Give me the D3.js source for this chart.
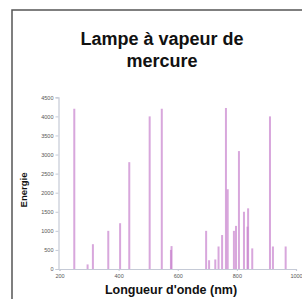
<!DOCTYPE html>
<html><head><meta charset="utf-8">
<script src="https://cdn.jsdelivr.net/npm/d3@7"></script>
<style>html,body{margin:0;padding:0;background:#fff;}</style>
</head><body>
<script>
const wavelengths = [250, 295, 313, 365, 405, 436, 505, 546, 577, 579, 696, 706, 727, 738, 750, 763, 769, 790, 797, 807, 824, 836, 838, 852, 912, 922, 965];
const energies   = [4200, 120, 650, 1000, 1200, 2800, 4000, 4200, 500, 600, 1000, 230, 250, 590, 890, 4220, 2090, 1000, 1130, 3090, 1500, 1110, 1590, 540, 4000, 590, 590];
const xTicks = [200, 400, 600, 800, 1000];
const yTicks = [0, 500, 1000, 1500, 2000, 2500, 3000, 3500, 4000, 4500];
const titleLines = ["Lampe à vapeur de", "mercure"];
const xLabel = "Longueur d'onde (nm)";
const yLabel = "Energie";

const W = 302, H = 299;
const svg = d3.select("body").append("svg").attr("width", W).attr("height", H);
svg.append("rect").attr("width", W).attr("height", H).attr("fill", "#fff");
svg.append("rect").attr("x", 12).attr("y", 10).attr("width", 400).attr("height", 400)
  .attr("fill", "none").attr("stroke", "#555").attr("stroke-width", 1.5);

const x = d3.scaleLinear().domain([200, 1000]).range([59.5, 296]);
const y = d3.scaleLinear().domain([0, 4500]).range([269, 97.3]);

svg.append("text").attr("text-anchor", "middle").attr("font-family", "Liberation Sans, Arial, sans-serif")
  .attr("font-weight", "bold").attr("font-size", 18).attr("fill", "#111")
  .selectAll("tspan").data(titleLines).join("tspan")
  .attr("x", 162).attr("y", (d, i) => 45 + i * 22).text(d => d);

const data = wavelengths.map((w, i) => ({w, e: energies[i]}));
svg.append("g").selectAll("rect").data(data).join("rect")
  .attr("x", d => x(d.w) - 1).attr("width", 2)
  .attr("y", d => y(d.e)).attr("height", d => y(0) - y(d.e))
  .attr("fill", "rgb(200,130,205)").attr("fill-opacity", 0.7);

const fmt = d3.format("d");
const ax = svg.append("g").attr("transform", `translate(0,${y(0)})`)
  .call(d3.axisBottom(x).tickValues(xTicks).tickFormat(fmt).tickSize(2).tickPadding(3));
const ay = svg.append("g").attr("transform", `translate(${x(200) - 1},0)`)
  .call(d3.axisLeft(y).tickValues(yTicks).tickFormat(fmt).tickSize(3).tickPadding(2));
[ax, ay].forEach(a => {
  a.select(".domain").attr("stroke", "#c5cad6").attr("stroke-width", 1.2);
  a.selectAll(".tick line").attr("stroke", "#c5cad6");
  a.selectAll(".tick text").attr("font-size", 5.5).attr("fill", "#555")
    .attr("font-family", "Liberation Sans, Arial, sans-serif");
});

svg.append("text").attr("x", 171).attr("y", 294).attr("text-anchor", "middle")
  .attr("font-family", "Liberation Sans, Arial, sans-serif").attr("font-weight", "bold")
  .attr("font-size", 12.5).attr("fill", "#111").text(xLabel);
svg.append("text").attr("transform", "translate(27,190) rotate(-90)").attr("text-anchor", "middle")
  .attr("font-family", "Liberation Sans, Arial, sans-serif").attr("font-weight", "bold")
  .attr("font-size", 9.5).attr("fill", "#111").text(yLabel);
</script>
</body></html>
